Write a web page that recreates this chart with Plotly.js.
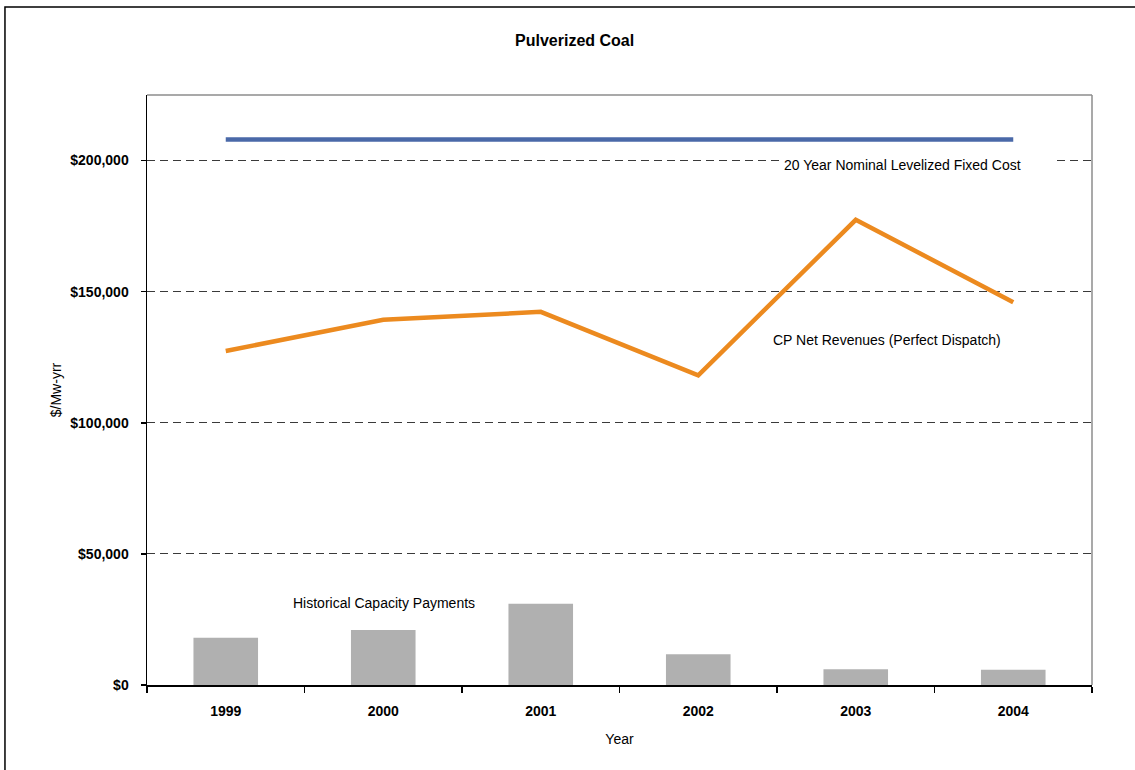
<!DOCTYPE html>
<html>
<head>
<meta charset="utf-8">
<script src="https://cdn.plot.ly/plotly-3.0.1.min.js"></script>
<style>
  html, body { margin: 0; padding: 0; background: #fff; }
  #chart { width: 1135px; height: 770px; }
</style>
</head>
<body>
<div id="chart"></div>
<script>
// Pulverized coal economics, $/MW-yr by year
const years = ['1999', '2000', '2001', '2002', '2003', '2004'];
const capacityPayments = [18000, 21000, 31000, 11700, 6000, 5800];
const netRevenues = [127400, 139300, 142300, 118100, 177400, 146000];
const levelizedFixedCost = [208000, 208000, 208000, 208000, 208000, 208000];
const yTicks = [0, 50000, 100000, 150000, 200000];

const sans = '"Liberation Sans", Arial, sans-serif';

const traces = [
  {
    type: 'bar',
    x: years,
    y: capacityPayments,
    width: 0.41,
    marker: { color: '#b0b0b0', line: { width: 0 } },
    hoverinfo: 'x+y'
  },
  {
    type: 'scatter',
    mode: 'lines',
    x: years,
    y: levelizedFixedCost,
    line: { color: '#4a69a8', width: 4.5 }
  },
  {
    type: 'scatter',
    mode: 'lines',
    x: years,
    y: netRevenues,
    line: { color: '#ec8a1f', width: 4.5 }
  }
];

const layout = {
  width: 1135,
  height: 770,
  margin: { l: 147, r: 43, t: 95, b: 85 },
  paper_bgcolor: '#ffffff',
  plot_bgcolor: '#ffffff',
  showlegend: false,
  font: { family: sans, color: '#000' },
  title: {
    text: '<b>Pulverized Coal</b>',
    font: { family: sans, size: 16, color: '#000' },
    x: 0.5063, xanchor: 'center',
    y: 0.947, yanchor: 'middle'
  },
  xaxis: {
    type: 'category',
    range: [-0.5, 5.5],
    tickson: 'boundaries',
    ticks: 'outside',
    ticklen: 6,
    tickwidth: 1.5,
    tickcolor: '#000',
    ticklabelstandoff: 12,
    showline: true,
    linecolor: '#000',
    linewidth: 2,
    showgrid: false,
    zeroline: false,
    tickfont: { family: sans, size: 14, color: '#000', weight: 'bold' },
    title: { text: 'Year', font: { family: sans, size: 14, color: '#000' }, standoff: 16 }
  },
  xaxis2: {
    overlaying: 'x',
    anchor: 'y',
    side: 'bottom',
    range: [-0.5, 5.5],
    tickvals: [-0.5, 0.5, 1.5, 2.5, 3.5, 4.5, 5.5],
    ticks: 'inside',
    ticklen: 5,
    tickwidth: 1.5,
    tickcolor: '#000',
    showticklabels: false,
    showline: false,
    showgrid: false,
    zeroline: false
  },
  yaxis: {
    range: [0, 225000],
    tickvals: yTicks,
    tickformat: '$,.0f',
    ticks: 'outside',
    ticklen: 5,
    tickwidth: 1.5,
    tickcolor: '#000',
    ticklabelstandoff: 9,
    showline: true,
    linecolor: '#000',
    linewidth: 1.5,
    showgrid: true,
    gridcolor: '#3a3a3a',
    gridwidth: 1,
    griddash: '8px,5px',
    zeroline: false,
    tickfont: { family: sans, size: 14, color: '#000', weight: 'bold' },
    title: { text: '$/Mw-yrr', font: { family: sans, size: 14, color: '#000' }, standoff: 5 }
  },
  yaxis2: {
    overlaying: 'y',
    anchor: 'x',
    side: 'left',
    range: [0, 225000],
    tickvals: yTicks,
    ticks: 'inside',
    ticklen: 6,
    tickwidth: 1.5,
    tickcolor: '#000',
    showticklabels: false,
    showline: false,
    showgrid: false,
    zeroline: false
  },
  shapes: [
    // top and right edges of the plotting area
    { type: 'line', xref: 'paper', yref: 'paper', x0: 0, x1: 1, y0: 1, y1: 1,
      line: { color: '#8c8c8c', width: 1.5 } },
    { type: 'line', xref: 'paper', yref: 'paper', x0: 1, x1: 1, y0: 0, y1: 1,
      line: { color: '#8c8c8c', width: 1.5 } },
    // outer chart frame
    { type: 'rect', xref: 'paper', yref: 'paper', x0: -0.1503, x1: 1.2, y0: -0.3, y1: 1.1492,
      line: { color: '#000', width: 1.5 }, layer: 'below' }
  ],
  annotations: [
    {
      text: '20 Year Nominal Levelized Fixed Cost',
      xref: 'paper', yref: 'paper',
      x: 0.6735, xanchor: 'left',
      y: 0.881, yanchor: 'middle',
      showarrow: false,
      bgcolor: '#ffffff',
      width: 270, align: 'left',
      borderpad: 0,
      font: { family: sans, size: 14, color: '#000' }
    },
    {
      text: 'CP Net Revenues (Perfect Dispatch)',
      xref: 'paper', yref: 'paper',
      x: 0.660, xanchor: 'left',
      y: 0.585, yanchor: 'middle',
      showarrow: false,
      font: { family: sans, size: 14, color: '#000' }
    },
    {
      text: 'Historical Capacity Payments',
      xref: 'paper', yref: 'paper',
      x: 0.1525, xanchor: 'left',
      y: 0.1395, yanchor: 'middle',
      showarrow: false,
      font: { family: sans, size: 14, color: '#000' }
    }
  ]
};

Plotly.newPlot('chart', traces, layout, { displayModeBar: false, staticPlot: true });
</script>
</body>
</html>
